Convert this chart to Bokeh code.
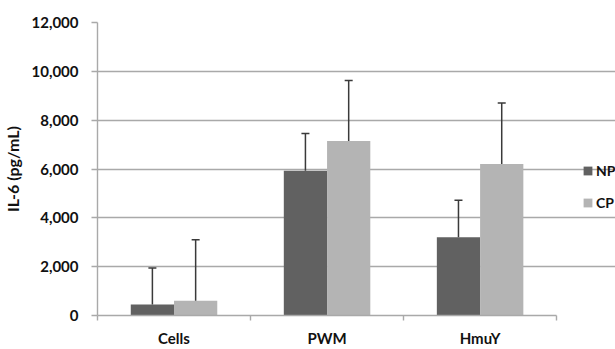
from bokeh.plotting import figure
from bokeh.models import (ColumnDataSource, Range1d, FixedTicker, Whisker, TeeHead, Legend,
                          LegendItem, NumeralTickFormatter)
from bokeh.embed import file_html
from bokeh.resources import INLINE

categories = ["Cells", "PWM", "HmuY"]
series_names = ["NP", "CP"]
np_means = [450, 5930, 3200]
np_errors = [1500, 1520, 1520]
cp_means = [600, 7150, 6200]
cp_errors = [2500, 2470, 2500]
y_ticks = [0, 2000, 4000, 6000, 8000, 10000, 12000]

FONT = "Lato"
GRAY = "#a9a9a9"
NP_COLOR = "#616161"
CP_COLOR = "#b4b4b4"
ERR_COLOR = "#3a3a3a"
OFF = 0.1413
BW = 0.2826

W, H = 615, 349
LEFT = 96
PLOT_PX = 460  # pixel width of the three category slots
n = len(categories)
x_end = n * (W - LEFT) / PLOT_PX  # frame extends to the right edge for the legend

idx = list(range(n))
centers = [i + 0.5 for i in idx]
src = ColumnDataSource(dict(
    cat=categories,
    x_np=[c - OFF for c in centers],
    x_cp=[c + OFF for c in centers],
    np=np_means,
    cp=cp_means,
    np_up=[m + e for m, e in zip(np_means, np_errors)],
    cp_up=[m + e for m, e in zip(cp_means, cp_errors)],
))

p = figure(x_range=Range1d(0, x_end), y_range=Range1d(0, 12000),
           width=W, height=H, output_backend="svg", toolbar_location=None,
           min_border_left=LEFT, min_border_right=0,
           min_border_top=22, min_border_bottom=34)
p.outline_line_color = None
p.background_fill_color = "white"
p.border_fill_color = "white"
p.xgrid.visible = False
p.ygrid.grid_line_color = GRAY
p.ygrid.grid_line_width = 1.4
p.ygrid.ticker = FixedTicker(ticks=y_ticks)
p.ygrid.bounds = (0, n)

ya = p.yaxis[0]
ya.ticker = FixedTicker(ticks=y_ticks)
ya.formatter = NumeralTickFormatter(format="0,0")
ya.axis_line_color = GRAY
ya.axis_line_width = 1.4
ya.major_tick_line_color = GRAY
ya.major_tick_line_width = 1.4
ya.major_tick_out = 6
ya.major_tick_in = 0
ya.minor_tick_line_color = None
ya.major_label_standoff = 13
ya.major_label_text_font = FONT
ya.major_label_text_font_style = "bold"
ya.major_label_text_font_size = "15px"
ya.major_label_text_color = "#111111"
ya.axis_label = "IL-6 (pg/mL)"
ya.axis_label_text_font = FONT
ya.axis_label_text_font_style = "bold"
ya.axis_label_text_font_size = "16px"
ya.axis_label_text_color = "#111111"
ya.axis_label_standoff = 6

xa = p.xaxis[0]
xa.bounds = (0, n)
xa.ticker = FixedTicker(ticks=centers, minor_ticks=[0] + [c + 0.5 for c in centers])
xa.major_label_overrides = {c: name for c, name in zip(centers, categories)}
xa.axis_line_color = GRAY
xa.axis_line_width = 1.4
xa.major_tick_line_color = None
xa.major_tick_out = 0
xa.major_tick_in = 0
xa.minor_tick_line_color = GRAY
xa.minor_tick_line_width = 1.4
xa.minor_tick_out = 5
xa.minor_tick_in = 0
xa.major_label_standoff = 8
xa.major_label_text_font = FONT
xa.major_label_text_font_style = "bold"
xa.major_label_text_font_size = "15px"
xa.major_label_text_color = "#111111"

r_np = p.vbar(x="x_np", top="np", width=BW, source=src, fill_color=NP_COLOR, line_color=None)
r_cp = p.vbar(x="x_cp", top="cp", width=BW, source=src, fill_color=CP_COLOR, line_color=None)

for base, lo, up in [("x_np", "np", "np_up"), ("x_cp", "cp", "cp_up")]:
    w = Whisker(base=base, lower=lo, upper=up, source=src,
                upper_head=TeeHead(size=8, line_color=ERR_COLOR, line_width=1.5),
                lower_head=None, line_color=ERR_COLOR, line_width=1.5, level="overlay")
    p.add_layout(w)

legend = Legend(items=[LegendItem(label=series_names[0], renderers=[r_np]),
                       LegendItem(label=series_names[1], renderers=[r_cp])],
                location=(485, 103), glyph_width=11, glyph_height=11, label_height=20,
                spacing=12, padding=0, margin=0, border_line_color=None,
                background_fill_alpha=0, label_standoff=3, label_text_font=FONT,
                label_text_font_style="bold", label_text_font_size="14px",
                label_text_color="#111111")
p.add_layout(legend, "center")

open("out.html", "w").write(file_html(p, INLINE))
